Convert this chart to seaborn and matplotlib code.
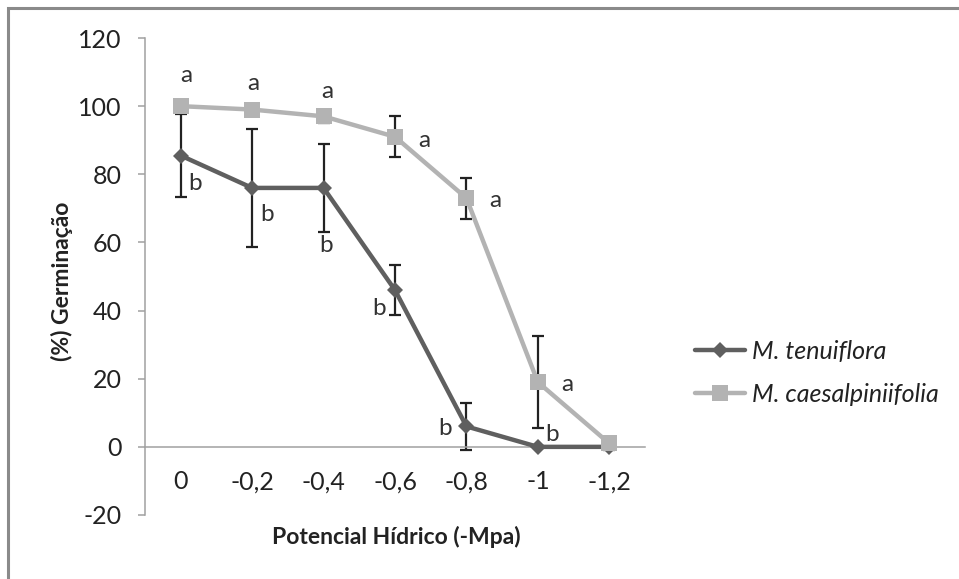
import matplotlib
matplotlib.use("Agg")
import matplotlib.pyplot as plt
import matplotlib.patches as mpatches
import seaborn as sns
import pandas as pd

# Data
potencial = ["0", "-0,2", "-0,4", "-0,6", "-0,8", "-1", "-1,2"]
tenuiflora = [85.5, 76, 76, 46, 6, 0, 0]
tenuiflora_err = [12.3, 17.3, 12.8, 7.3, 6.8, 0, 0]
caesalp = [100, 99, 97, 91, 73, 19, 1]
caesalp_err = [0, 0, 2, 6, 6, 13.4, 2]
letras_ten = ["b", "b", "b", "b", "b", "b", ""]
letras_cae = ["a", "a", "a", "a", "a", "a", ""]

sns.set_style("white")
plt.rcParams["font.family"] = ["Lato", "DejaVu Sans"]
plt.rcParams["axes.unicode_minus"] = False

cor_esc = "#5f5f5f"
cor_cla = "#b3b3b3"

df = pd.DataFrame({"pos": range(len(potencial)), "ten": tenuiflora, "cae": caesalp})

fig = plt.figure(figsize=(9.59, 5.79), dpi=100)
ax = fig.add_axes([145 / 959, 1 - 515 / 579, 500 / 959, 477 / 579])

# error bars first so markers sit on top
ax.errorbar(df["pos"], df["ten"], yerr=tenuiflora_err, fmt="none", ecolor="#222222",
            elinewidth=1.6, capsize=4, capthick=1.6, zorder=2)
ax.errorbar(df["pos"], df["cae"], yerr=caesalp_err, fmt="none", ecolor="#222222",
            elinewidth=1.6, capsize=4, capthick=1.6, zorder=2)

sns.lineplot(data=df, x="pos", y="ten", ax=ax, color=cor_esc, lw=3.2, marker="D",
             markersize=8, markeredgewidth=0, label="M. tenuiflora", zorder=3)
sns.lineplot(data=df, x="pos", y="cae", ax=ax, color=cor_cla, lw=3.2, marker="s",
             markersize=11, markeredgewidth=0, label="M. caesalpiniifolia", zorder=4)

# significance letters
off_ten = [(14, -28), (15, -27), (2, -58), (-16, -18), (-21, -2), (14, 12), (0, 0)]
off_cae = [(6, 31), (1, 26), (4, 25), (29, -4), (29, -2), (29, -2), (0, 0)]
for i in range(len(potencial)):
    ax.annotate(letras_ten[i], (i, tenuiflora[i]), xytext=off_ten[i], textcoords="offset pixels",
                ha="center", va="center", fontsize=17.5, color="#333333")
    ax.annotate(letras_cae[i], (i, caesalp[i]), xytext=off_cae[i], textcoords="offset pixels",
                ha="center", va="center", fontsize=17.5, color="#333333")

ax.set_xlim(-0.5, 6.5)
ax.set_ylim(-20, 120)
ax.set_yticks(range(-20, 121, 20))
ax.set_xticks(range(len(potencial)))
ax.set_xticklabels(potencial)

for s in ["top", "right"]:
    ax.spines[s].set_visible(False)
ax.spines["bottom"].set_position(("data", 0))
ax.spines["bottom"].set_color("#a0a0a0")
ax.spines["left"].set_color("#a0a0a0")
ax.spines["bottom"].set_linewidth(1.1)
ax.spines["left"].set_linewidth(1.1)
ax.tick_params(axis="y", direction="out", length=5, color="#a0a0a0", width=1.1,
               labelsize=18, labelcolor="#222222", pad=12, left=True)
ax.tick_params(axis="x", length=0, labelsize=18, labelcolor="#222222", pad=17)

ax.set_xlabel("")
ax.set_ylabel("")
fig.text(396 / 959, 1 - 537 / 579, "Potencial Hídrico (-Mpa)", ha="center", va="center",
         fontsize=16.5, fontweight="bold", color="#222222")
fig.text(62 / 959, 1 - 281 / 579, "(%) Germinação", ha="center", va="center", rotation=90,
         fontsize=16.5, fontweight="bold", color="#222222")

leg = ax.legend(loc="center left", bbox_to_anchor=(672 / 959, 1 - 373 / 579),
                bbox_transform=fig.transFigure, frameon=False,
                handlelength=2.0, handletextpad=0.3, labelspacing=0.8,
                prop={"style": "italic", "size": 18})
for t in leg.get_texts():
    t.set_color("#222222")

# outer chart border (left and top visible)
fig.patches.append(mpatches.Rectangle((8 / 959, -0.05), 1.2, 1.05 - 8 / 579,
                                      transform=fig.transFigure, fill=False,
                                      edgecolor="#8a8a8a", lw=2.2, zorder=0))

fig.savefig("out.png", dpi=100)
